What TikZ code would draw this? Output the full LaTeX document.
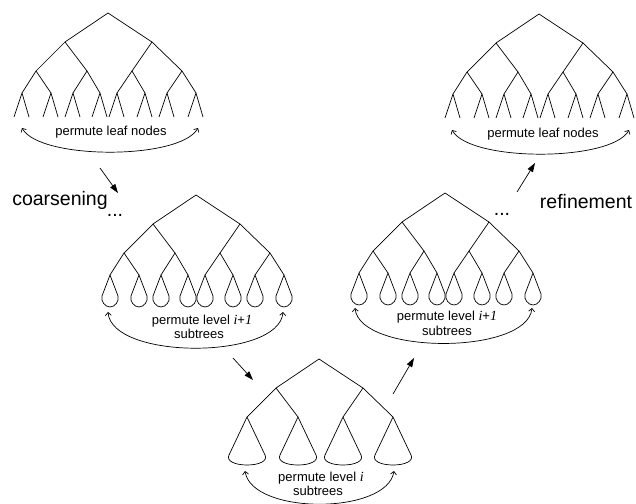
\documentclass[tikz,border=0pt]{standalone}
\usepackage{fontspec}
\setmainfont{Liberation Sans}
\newfontfamily\serifit{Liberation Serif}[ItalicFont={* Italic}]
\usetikzlibrary{arrows.meta,calc}
\newcommand{\ivar}[1]{{\serifit\itshape\fontsize{14}{14}\selectfont #1}}
\tikzset{
  treeline/.style={line width=0.7pt, line join=round},
  perm/.style={line width=0.7pt, {Straight Barb[length=3pt,width=6pt]}-{Straight Barb[length=3pt,width=6pt]}},
  bigarrow/.style={line width=0.7pt, -{Triangle[length=9pt,width=6pt]}},
  small/.style={inner sep=0pt, font=\fontsize{13}{14}\selectfont},
  big/.style={inner sep=0pt, font=\fontsize{19.5}{22}\selectfont},
}
% upper part of a tree: root, level 1, level 2
\newcommand{\upperpart}{%
  \coordinate (r) at (0,0);
  \coordinate (a1) at (-43,29); \coordinate (a2) at (44,29);
  \coordinate (b1) at (-72,58); \coordinate (b2) at (-21,58);
  \coordinate (b3) at (24,58);  \coordinate (b4) at (74,58);
  \draw[treeline] (a1) -- (r) -- (a2);
  \draw[treeline] (b1) -- (a1) -- (b2);
  \draw[treeline] (b3) -- (a2) -- (b4);
}
% level 3 of a tree
\newcommand{\levelthree}{%
  \coordinate (c1) at (-86,80); \coordinate (c2) at (-57,80);
  \coordinate (c3) at (-35,80); \coordinate (c4) at (-8,80);
  \coordinate (c5) at (9,80);   \coordinate (c6) at (37,80);
  \coordinate (c7) at (59,80);  \coordinate (c8) at (88,80);
  \draw[treeline] (c1) -- (b1) -- (c2);
  \draw[treeline] (c3) -- (b2) -- (c4);
  \draw[treeline] (c5) -- (b3) -- (c6);
  \draw[treeline] (c7) -- (b4) -- (c8);
}
\newcommand{\leaves}{%
  \foreach \k in {1,...,8}{\draw[treeline] ($(c\k)+(-8,24)$) -- (c\k) -- ($(c\k)+(7,24)$);}
}
\newcommand{\tears}{%
  \foreach \k in {1,...,8}{\draw[treeline] (c\k) -- ++(-8,21) .. controls ++(-1.5,5) and ++(-5,0) .. ++(8,11) .. controls ++(5,0) and ++(1.5,5) .. ++(8,-11) -- cycle;}
}
\newcommand{\cones}{%
  \foreach \k in {1,...,4}{\draw[treeline] (b\k) -- ++(-18,38) .. controls ++(-3,6) and ++(-12,0) .. ++(18,10) .. controls ++(12,0) and ++(3,6) .. ++(18,-10) -- cycle;}
}
\begin{document}
\begin{tikzpicture}[x=1pt,y=-1pt]
\useasboundingbox (0,0) rectangle (636,503);

% top-left tree
\begin{scope}[shift={(108,13)}]
  \upperpart \levelthree \leaves
\end{scope}
% top-right tree
\begin{scope}[shift={(539,14)}]
  \upperpart \levelthree \leaves
\end{scope}
% middle-left tree
\begin{scope}[shift={(196,195)}]
  \upperpart \levelthree \tears
\end{scope}
% middle-right tree
\begin{scope}[shift={(445,193)}]
  \upperpart \levelthree \tears
\end{scope}
% bottom tree
\begin{scope}[shift={(319,359)}]
  \upperpart \cones
\end{scope}

% permutation arcs
\coordinate (p1l) at (22,128);  \coordinate (p1r) at (198,128);
\draw[perm] (p1l) .. controls (40,160) and (180,160) .. (p1r);
\coordinate (p2l) at (452,130); \coordinate (p2r) at (629,130);
\draw[perm] (p2l) .. controls (470,162) and (611,162) .. (p2r);
\coordinate (p3l) at (108,312); \coordinate (p3r) at (283,312);
\draw[perm] (p3l) .. controls (112,360) and (279,360) .. (p3r);
\coordinate (p4l) at (355,308); \coordinate (p4r) at (532,308);
\draw[perm] (p4l) .. controls (360,355) and (527,355) .. (p4r);
\coordinate (p5l) at (245,471); \coordinate (p5r) at (394,471);
\draw[perm] (p5l) .. controls (252,515) and (387,515) .. (p5r);

% labels
\node[small, anchor=base] (t1) at (111,135) {permute leaf nodes};
\node[small, anchor=base] (t2) at (543,137) {permute leaf nodes};
\node[small, anchor=base] (t3) at (202,324) {permute level \ivar{i}+\ivar{1}};
\node[small, anchor=base] (t3b) at (199,338) {subtrees};
\node[small, anchor=base] (t4) at (447,320) {permute level \ivar{i}+\ivar{1}};
\node[small, anchor=base] (t4b) at (447,335) {subtrees};
\node[small, anchor=base] (t5) at (321,481) {permute level \ivar{i}};
\node[small, anchor=base] (t5b) at (318,495) {subtrees};

\node[big, anchor=base] (coarse) at (60,205) {coarsening};
\node[big, anchor=base] (refine) at (586,208) {refinement};
\node[big, anchor=base] (d1) at (115,216) {...};
\node[big, anchor=base] (d2) at (502,215) {...};

% process arrows
\coordinate (q1s) at (100,168); \coordinate (q1e) at (118,193);
\draw[bigarrow] (q1s) -- (q1e);
\coordinate (q2s) at (233,358); \coordinate (q2e) at (253,380);
\draw[bigarrow] (q2s) -- (q2e);
\coordinate (q3s) at (393,394); \coordinate (q3e) at (414,358);
\draw[bigarrow] (q3s) -- (q3e);
\coordinate (q4s) at (517,192); \coordinate (q4e) at (535,163);
\draw[bigarrow] (q4s) -- (q4e);
\end{tikzpicture}
\end{document}
